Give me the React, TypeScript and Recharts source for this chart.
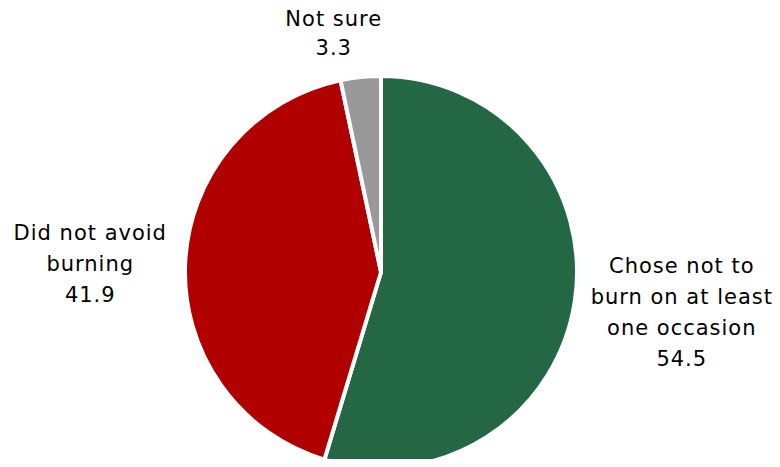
import { PieChart, Pie, Cell } from "recharts";

const labels = ["Chose not to\nburn on at least\none occasion", "Did not avoid\nburning", "Not sure"];
const values = [54.5, 41.9, 3.3];
const COLORS = ["#236745", "#B00000", "#999999"];

// label placement tweaks per slice: distance from centre and nudges
const LABEL_R = [300, 289, 243];
const LABEL_DX = [4, -2, -22];
const LABEL_DY = [-3, 4, 3];
const LINE_H = 31;
const RAD = Math.PI / 180;

const data = labels.map((name, i) => ({ name, value: values[i] }));

const renderLabel = (props: any) => {
  const { cx, cy, midAngle, index, name, value } = props;
  const r = LABEL_R[index];
  const x = cx + r * Math.cos(-midAngle * RAD) + LABEL_DX[index];
  const y = cy + r * Math.sin(-midAngle * RAD) + LABEL_DY[index];
  const lines = [...String(name).split("\n"), String(value)];
  const lh = index === 2 ? 29 : LINE_H;
  const top = y - ((lines.length - 1) / 2) * lh;
  return (
    <text
      x={x}
      y={top}
      textAnchor="middle"
      dominantBaseline="central"
      fill="#000"
      fontSize={21}
      letterSpacing={1}
      fontFamily="'DejaVu Sans', Verdana, sans-serif"
    >
      {lines.map((l, i) => (
        <tspan key={i} x={x} y={top + i * lh}>
          {l}
        </tspan>
      ))}
    </text>
  );
};

export default function App() {
  return (
    <div style={{ margin: -8, width: 780, height: 467, background: "#fff" }}>
      <PieChart width={780} height={467} margin={{ top: 0, right: 0, bottom: 0, left: 0 }}>
        <Pie
          data={data}
          dataKey="value"
          nameKey="name"
          cx={381}
          cy={272}
          outerRadius={196}
          startAngle={90}
          endAngle={-270}
          stroke="#ffffff"
          strokeWidth={4}
          label={renderLabel}
          labelLine={false}
          isAnimationActive={false}
        >
          {data.map((_, i) => (
            <Cell key={`cell-${i}`} fill={COLORS[i]} />
          ))}
        </Pie>
      </PieChart>
    </div>
  );
}
